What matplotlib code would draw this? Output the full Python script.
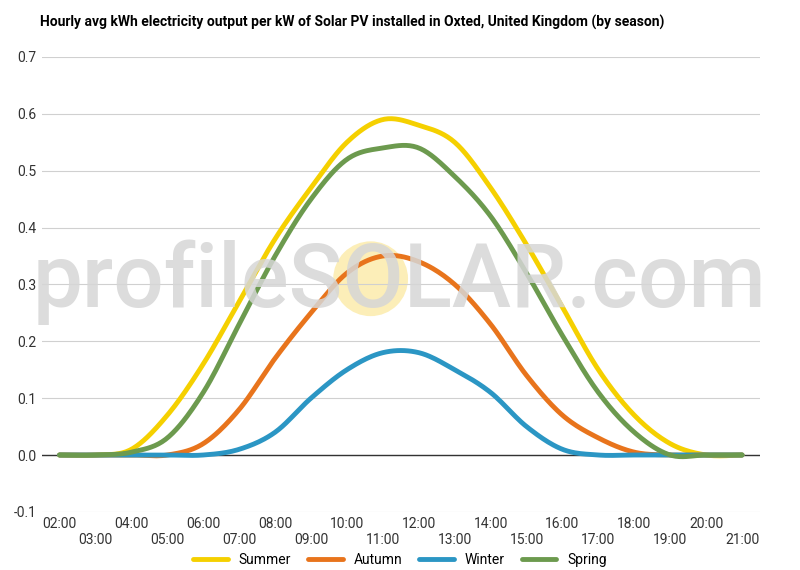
import numpy as np
import matplotlib.pyplot as plt

hours = list(range(2, 22))
summer = [0, 0, 0.01, 0.07, 0.16, 0.27, 0.38, 0.47, 0.55, 0.59, 0.58, 0.55, 0.47, 0.37, 0.26, 0.15, 0.07, 0.02, 0, 0]
spring = [0, 0, 0.005, 0.03, 0.11, 0.23, 0.35, 0.45, 0.52, 0.54, 0.54, 0.49, 0.42, 0.32, 0.21, 0.11, 0.04, 0, 0, 0]
autumn = [0, 0, 0, 0, 0.02, 0.08, 0.17, 0.25, 0.32, 0.35, 0.34, 0.30, 0.23, 0.14, 0.07, 0.03, 0.005, 0, 0, 0]
winter = [0, 0, 0, 0, 0, 0.01, 0.04, 0.10, 0.15, 0.18, 0.18, 0.15, 0.11, 0.05, 0.01, 0, 0, 0, 0, 0]
tick_labels = ["%02d:00" % h for h in hours]


def smooth(x, y, n=20):
    # Catmull-Rom curve through the points (drawing only)
    x = np.asarray(x, float); y = np.asarray(y, float)
    px = np.concatenate([[x[0]], x, [x[-1]]]); py = np.concatenate([[y[0]], y, [y[-1]]])
    xs, ys = [], []
    t = np.linspace(0, 1, n, endpoint=False)
    for i in range(1, len(px) - 2):
        for p, out in ((px, xs), (py, ys)):
            p0, p1, p2, p3 = p[i - 1], p[i], p[i + 1], p[i + 2]
            out.extend(0.5 * (2 * p1 + (-p0 + p2) * t + (2 * p0 - 5 * p1 + 4 * p2 - p3) * t**2
                              + (-p0 + 3 * p1 - 3 * p2 + p3) * t**3))
    xs.append(x[-1]); ys.append(y[-1])
    return xs, ys


fig = plt.figure(figsize=(8, 5.7), dpi=100)
ax = fig.add_axes([0.052, 0.102, 0.898, 0.798])

# watermark (sun + text)
ax.scatter([10.66], [0.31], s=2900, color="#fbe9a0", alpha=0.75, edgecolors="none", zorder=0)
fig.text(0.5, 0.505, "profileSOLAR.com", fontsize=64, color="#d6d6d6", ha="center", va="center",
         fontfamily="Roboto", fontweight="medium", zorder=0, alpha=0.85)

for y, c, lab in [(summer, "#f5d000", "Summer"), (autumn, "#e8741c", "Autumn"),
                  (winter, "#2b96c4", "Winter"), (spring, "#6c9a4e", "Spring")]:
    xs, ys = smooth(hours, y)
    ax.plot(xs, ys, color=c, lw=3.5, label=lab, zorder=3, solid_capstyle="round")

ax.set_xlim(1.5, 21.5)
ax.set_ylim(-0.1, 0.7)
ax.set_yticks(np.arange(-0.1, 0.71, 0.1))
ax.set_yticklabels(["-0.1", "0.0", "0.1", "0.2", "0.3", "0.4", "0.5", "0.6", "0.7"])
ax.set_xticks(hours)
ax.set_xticklabels([l if i % 2 == 0 else "\n" + l for i, l in enumerate(tick_labels)])
ax.grid(axis="y", color="#d0d0d0", lw=0.8)
ax.axhline(0, color="#333333", lw=1, zorder=2)
ax.patch.set_alpha(0)
for s in ax.spines.values():
    s.set_visible(False)
ax.tick_params(length=0, labelsize=10, colors="#333333")
for t in ax.get_xticklabels() + ax.get_yticklabels():
    t.set_fontfamily("Roboto")

fig.text(0.05, 0.96, "Hourly avg kWh electricity output per kW of Solar PV installed in Oxted, United Kingdom (by season)",
         fontsize=10, fontweight="bold", fontfamily="Roboto", va="center")
fig.legend(loc="lower center", ncol=4, frameon=False, bbox_to_anchor=(0.5, -0.016),
           prop={"family": "Roboto", "size": 10}, handlelength=2.5, columnspacing=1.2)
fig.savefig("out.png")
